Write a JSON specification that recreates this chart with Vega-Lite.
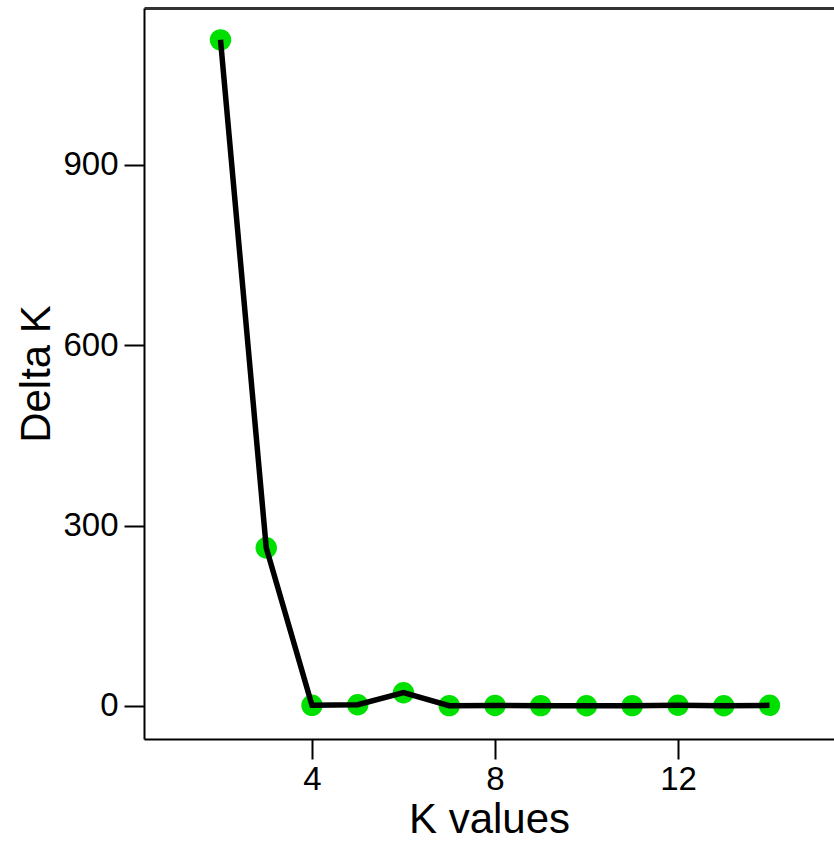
{
  "$schema": "https://vega.github.io/schema/vega-lite/v6.json",
  "width": 690,
  "height": 731,
  "autosize": {"type": "none"},
  "padding": {"left": 144, "top": 8, "right": 0, "bottom": 104},
  "background": "white",
  "config": {
    "view": {"stroke": null},
    "font": "Liberation Sans",
    "axis": {
      "grid": false,
      "domainColor": "black",
      "domainWidth": 2,
      "tickColor": "black",
      "tickWidth": 2,
      "tickSize": 20,
      "labelFont": "Liberation Sans",
      "labelFontSize": 33,
      "labelColor": "black",
      "titleFont": "Liberation Sans",
      "titleFontSize": 42,
      "titleFontWeight": "normal",
      "titleColor": "black"
    }
  },
  "data": {
    "values": [
      {"k": 2, "deltaK": 1108},
      {"k": 3, "deltaK": 263},
      {"k": 4, "deltaK": 1},
      {"k": 5, "deltaK": 2},
      {"k": 6, "deltaK": 22},
      {"k": 7, "deltaK": 0.5},
      {"k": 8, "deltaK": 0.8},
      {"k": 9, "deltaK": 0.5},
      {"k": 10, "deltaK": 0.3},
      {"k": 11, "deltaK": 0.5},
      {"k": 12, "deltaK": 1.2},
      {"k": 13, "deltaK": 0.3},
      {"k": 14, "deltaK": 1}
    ]
  },
  "layer": [
    {
      "mark": {"type": "point", "filled": true, "size": 460, "opacity": 1, "color": "#00e000"},
      "encoding": {
        "x": {
          "field": "k", "type": "quantitative",
          "scale": {"domain": [0.328, 15.41], "nice": false, "zero": false},
          "axis": {"orient": "bottom", "values": [4, 8, 12], "title": "K values", "labelPadding": 4, "titlePadding": 3}
        },
        "y": {
          "field": "deltaK", "type": "quantitative",
          "scale": {"domain": [-55, 1161], "nice": false, "zero": false},
          "axis": {"values": [0, 300, 600, 900], "title": "Delta K", "labelPadding": 6, "titlePadding": 4}
        }
      }
    },
    {
      "mark": {"type": "line", "color": "black", "strokeWidth": 5.5},
      "encoding": {
        "x": {
          "field": "k", "type": "quantitative",
          "axis": {"orient": "top", "title": null, "labels": false, "ticks": false, "domain": true, "domainColor": "#333333", "domainWidth": 3}
        },
        "y": {"field": "deltaK", "type": "quantitative"}
      }
    }
  ],
  "resolve": {"axis": {"x": "independent"}}
}
